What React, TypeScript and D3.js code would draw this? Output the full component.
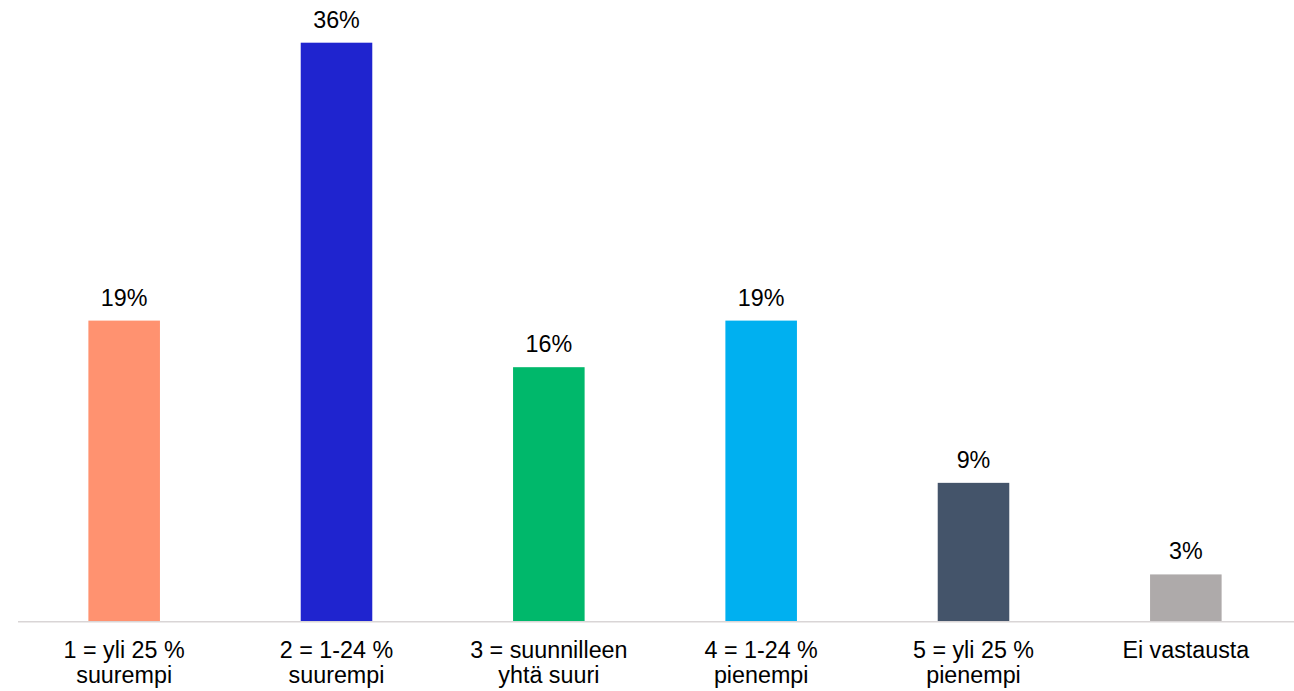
import React from "react";
import * as d3 from "d3";

const categories: string[][] = [
  ["1 = yli 25 %", "suurempi"],
  ["2 = 1-24 %", "suurempi"],
  ["3 = suunnilleen", "yhtä suuri"],
  ["4 = 1-24 %", "pienempi"],
  ["5 = yli 25 %", "pienempi"],
  ["Ei vastausta"],
];
const values: number[] = [18.7, 36, 15.8, 18.7, 8.6, 2.9];
const valueLabels: string[] = ["19%", "36%", "16%", "19%", "9%", "3%"];
const colors: string[] = ["#FF9270", "#1F24CF", "#00B86B", "#00B0F0", "#44546A", "#AEAAAA"];

const W = 1294;
const H = 691;
const left = 18;
const right = 1292;
const baseline = 621;

export default function App() {
  const x = d3
    .scaleBand<number>()
    .domain(values.map((_, i) => i))
    .range([left, right])
    .paddingInner(0.663)
    .paddingOuter(0.3315);
  const y = d3.scaleLinear().domain([0, 36]).range([baseline, 42.7]);
  const font = "'Liberation Sans', Arial, sans-serif";

  return (
    <svg
      width={W}
      height={H}
      style={{ position: "absolute", left: 0, top: 0, background: "#fff" }}
      fontFamily={font}
    >
      {values.map((v, i) => (
        <g key={i}>
          <rect
            x={x(i)!}
            y={y(v)}
            width={x.bandwidth()}
            height={baseline - y(v)}
            fill={colors[i]}
          />
          <text
            x={x(i)! + x.bandwidth() / 2}
            y={y(v) - 15}
            textAnchor="middle"
            fontSize={23.3}
            fill="#000"
          >
            {valueLabels[i]}
          </text>
          {categories[i].map((line, j) => (
            <text
              key={j}
              x={x(i)! + x.bandwidth() / 2}
              y={657.5 + j * 25.7}
              textAnchor="middle"
              fontSize={23.3}
              fill="#000"
            >
              {line}
            </text>
          ))}
        </g>
      ))}
      <line x1={left} x2={W} y1={baseline + 0.75} y2={baseline + 0.75} stroke="#D9D5D6" strokeWidth={1.5} />
    </svg>
  );
}
